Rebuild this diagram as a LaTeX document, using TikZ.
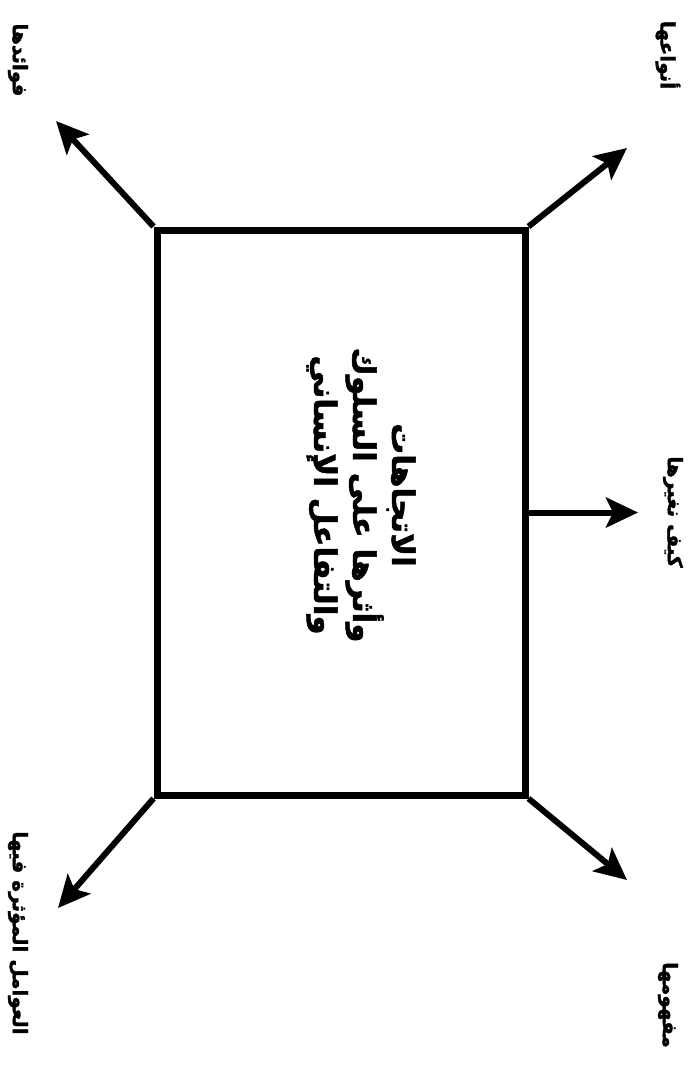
\documentclass[tikz,border=0pt]{standalone}
\usepackage{fontspec}
\TeXXeTstate=1
\newfontfamily\arabicfont[Script=Arabic,BoldFont={DejaVu Sans Bold},BoldFeatures={FakeBold=1.6}]{DejaVu Sans}
\usetikzlibrary{arrows.meta}
\begin{document}
\begin{tikzpicture}[x=1pt,y=-1pt,
  arr/.style={line width=6pt,-{Stealth[length=32pt,width=30pt,inset=7pt]}},
  lbl/.style={rotate=-90,font=\arabicfont\bfseries\fontsize{20}{24}\selectfont,inner sep=0pt},
  titletext/.style={rotate=-90,align=center,font=\arabicfont\bfseries\fontsize{31}{39}\selectfont,inner sep=0pt}
]
\useasboundingbox (0,0) rectangle (698,1072);
\fill[white] (0,0) rectangle (698,1072);
\node[draw, line width=7pt, minimum width=368pt, minimum height=565pt, inner sep=0pt] (box) at (341,512.5) {};
\node[titletext] (title) at (361,495) {\beginR الاتجاهات\endR\\ \beginR وأثرها على السلوك\endR\\ \beginR والتفاعل الإنساني\endR};
\node[lbl] (types) at (668,55) {\beginR أنواعها\endR};
\node[lbl] (benefits) at (18,60) {\beginR فوائدها\endR};
\node[lbl] (change) at (673,512) {\beginR كيف نغيرها\endR};
\node[lbl] (concept) at (668,1005) {\beginR مفهومها\endR};
\node[lbl] (factors) at (18,933) {\beginR العوامل المؤثرة فيها\endR};
\coordinate (tTR) at (627,148);
\coordinate (tTL) at (56,121);
\coordinate (tBR) at (627,880);
\coordinate (tBL) at (58,908);
\coordinate (tM) at (638,512.5);
\draw[arr] (box.north east) -- (tTR);
\draw[arr] (box.north west) -- (tTL);
\draw[arr] (box.south east) -- (tBR);
\draw[arr] (box.south west) -- (tBL);
\draw[arr] (box.east) -- (tM);
\end{tikzpicture}
\end{document}
